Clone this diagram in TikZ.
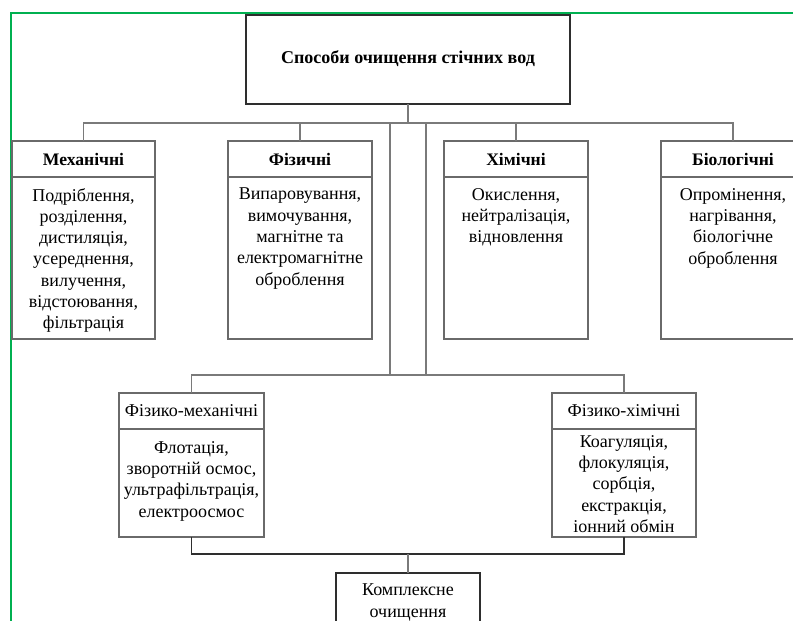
\documentclass[tikz,border=0pt]{standalone}
\usepackage{fontspec}
\usetikzlibrary{calc}
\setmainfont{Liberation Serif}
\definecolor{wordgreen}{HTML}{00B050}
\definecolor{conngray}{HTML}{7A7A7A}
\definecolor{boxgray}{HTML}{6A6A6A}
\definecolor{darkline}{HTML}{2E2E2E}
\begin{document}
\begin{tikzpicture}[x=1pt,y=-1pt,
  conn/.style={draw=conngray,line width=1.3pt},
  connd/.style={draw=darkline,line width=1.3pt},
  catbox/.style={draw=boxgray,line width=1.2pt,anchor=north west,inner sep=0,outer sep=0},
  mainbox/.style={draw=darkline,line width=2pt,anchor=north west,inner sep=0,outer sep=0},
  divline/.style={draw=boxgray,line width=1.2pt},
  head/.style={font=\fontsize{17.6}{21.3}\selectfont\bfseries,inner sep=0,anchor=center},
  headr/.style={font=\fontsize{18}{21.3}\selectfont,inner sep=0,anchor=center},
  body/.style={font=\fontsize{18}{21.3}\selectfont,align=center,inner sep=0,anchor=north},
]
\useasboundingbox (0,0) rectangle (793,621);
\clip (0,0) rectangle (793,621);
\fill[white] (0,0) rectangle (793,621);
\draw[draw=wordgreen,line width=2pt] (11,622) -- (11,13) -- (794,13);

% top box
\node[mainbox,minimum width=324pt,minimum height=89pt] (top) at (246,15) {};
\node[head,font=\fontsize{18}{21.3}\selectfont\bfseries] (toptext) at (408,59) {Способи очищення стічних вод};

% category boxes
\node[catbox,minimum width=143pt,minimum height=198pt] (mech) at (12,141) {};
\node[catbox,minimum width=144pt,minimum height=198pt] (fiz) at (228,141) {};
\node[catbox,minimum width=144pt,minimum height=198pt] (him) at (444,141) {};
\node[catbox,minimum width=144pt,minimum height=198pt] (bio) at (661,141) {};
\foreach \n in {mech,fiz,him,bio}{
  \draw[divline] ($(\n.north west)+(0,36)$) -- ($(\n.north east)+(0,36)$);
}
\node[head] (mechh) at ($(mech.north)+(0,18)$) {Механічні};
\node[head] (fizh) at ($(fiz.north)+(0,18)$) {Фізичні};
\node[head] (himh) at ($(him.north)+(0,18)$) {Хімічні};
\node[head] (bioh) at ($(bio.north)+(0,18)$) {Біологічні};

\node[body] (mechb) at (83.5,188) {Подріблення,\\розділення,\\дистиляція,\\усереднення,\\вилучення,\\відстоювання,\\фільтрація};
\node[body] (fizb) at (300,188) {Випаровування,\\вимочування,\\магнітне та\\електромагнітне\\оброблення};
\node[body] (himb) at (516,188) {Окислення,\\нейтралізація,\\відновлення};
\node[body] (biob) at (733,188) {Опромінення,\\нагрівання,\\біологічне\\оброблення};

% lower boxes
\node[catbox,minimum width=145pt,minimum height=144pt] (fm) at (119,393) {};
\node[catbox,minimum width=144pt,minimum height=144pt] (fh) at (552,393) {};
\foreach \n in {fm,fh}{
  \draw[divline] ($(\n.north west)+(0,36)$) -- ($(\n.north east)+(0,36)$);
}
\node[headr] (fmh) at ($(fm.north)+(0,18)$) {Фізико-механічні};
\node[headr] (fhh) at ($(fh.north)+(0,18)$) {Фізико-хімічні};
\node[body] (fmb) at (191.5,441) {Флотація,\\зворотній осмос,\\ультрафільтрація,\\електроосмос};
\node[body] (fhb) at (624,435) {Коагуляція,\\флокуляція,\\сорбція,\\екстракція,\\іонний обмін};

% final box
\node[mainbox,minimum width=144pt,minimum height=80pt] (kom) at (336,573) {};
\node[body] (komb) at (408,584) {Комплексне\\очищення};

% connectors
\coordinate (jL) at (390,123);
\coordinate (jR) at (426,123);
\coordinate (kL) at (390,375);
\coordinate (kR) at (426,375);
\draw[conn] (top.south) -- ++(0,19);
\draw[conn] (mech.north) -- ++(0,-18) -| (bio.north);
\draw[conn] (fiz.north) -- ++(0,-18);
\draw[conn] (him.north) -- ++(0,-18);
\draw[conn] (jL) -- (kL);
\draw[conn] (jR) -- (kR);
\draw[conn] (fm.north) -- ++(0,-18) -| (fh.north);
\draw[connd] (fm.south) -- ++(0,17) -| (fh.south);
\draw[conn] (kom.north) -- ++(0,-19);
\end{tikzpicture}
\end{document}
